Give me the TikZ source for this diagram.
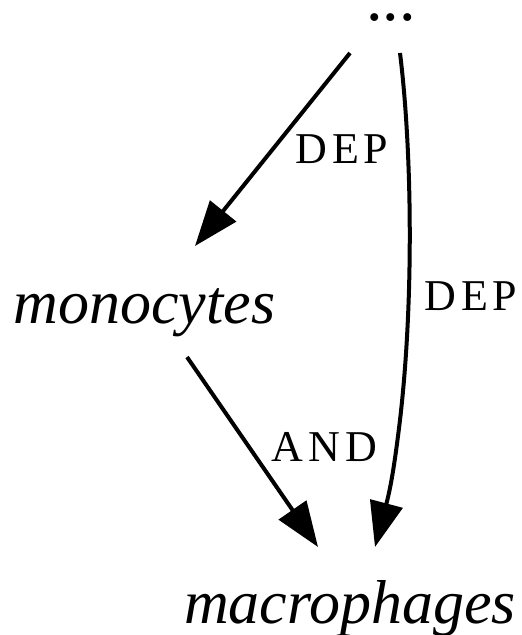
\documentclass[tikz,border=0pt]{standalone}
\usepackage{fontspec}
\setmainfont{Liberation Serif}
\newfontfamily\relfont[LetterSpace=11]{Liberation Serif}
\usetikzlibrary{arrows.meta,calc}

\begin{document}
\begin{tikzpicture}[x=1pt,y=-1pt,
  term/.style={inner sep=0pt, font=\fontsize{62}{70}\selectfont\itshape},
  rel/.style={inner sep=0pt, anchor=base, font=\relfont\fontsize{44}{50}\selectfont},
  link/.style={line width=4pt, -{Triangle[length=45pt,width=33pt]}}]
\useasboundingbox (0,0) rectangle (522,635);

\node[term, font=\fontsize{66}{70}\selectfont] (dots) at (391,18) {...};
\node[term, anchor=base] (mono) at (144.5,323) {monocytes};
\node[term, anchor=base] (macro) at (350,623) {macrophages};

\draw[link] ($(dots.center)+(-41,35)$) -- ($(mono.base)+(50.5,-77)$);
\draw[link] ($(dots.center)+(9,35)$) .. controls +(12,97) and +(14,-120) .. (400,420)
  .. controls +(-6,50) and +(15,-57) .. ($(macro.base)+(25,-76)$);
\draw[link] ($(mono.base)+(42.5,34)$) -- ($(macro.base)+(-32,-76)$);

\node[rel] (dep1) at (342,163) {DEP};
\node[rel] (dep2) at (471,310) {DEP};
\node[rel] (and) at (324.5,461) {AND};
\end{tikzpicture}
\end{document}
